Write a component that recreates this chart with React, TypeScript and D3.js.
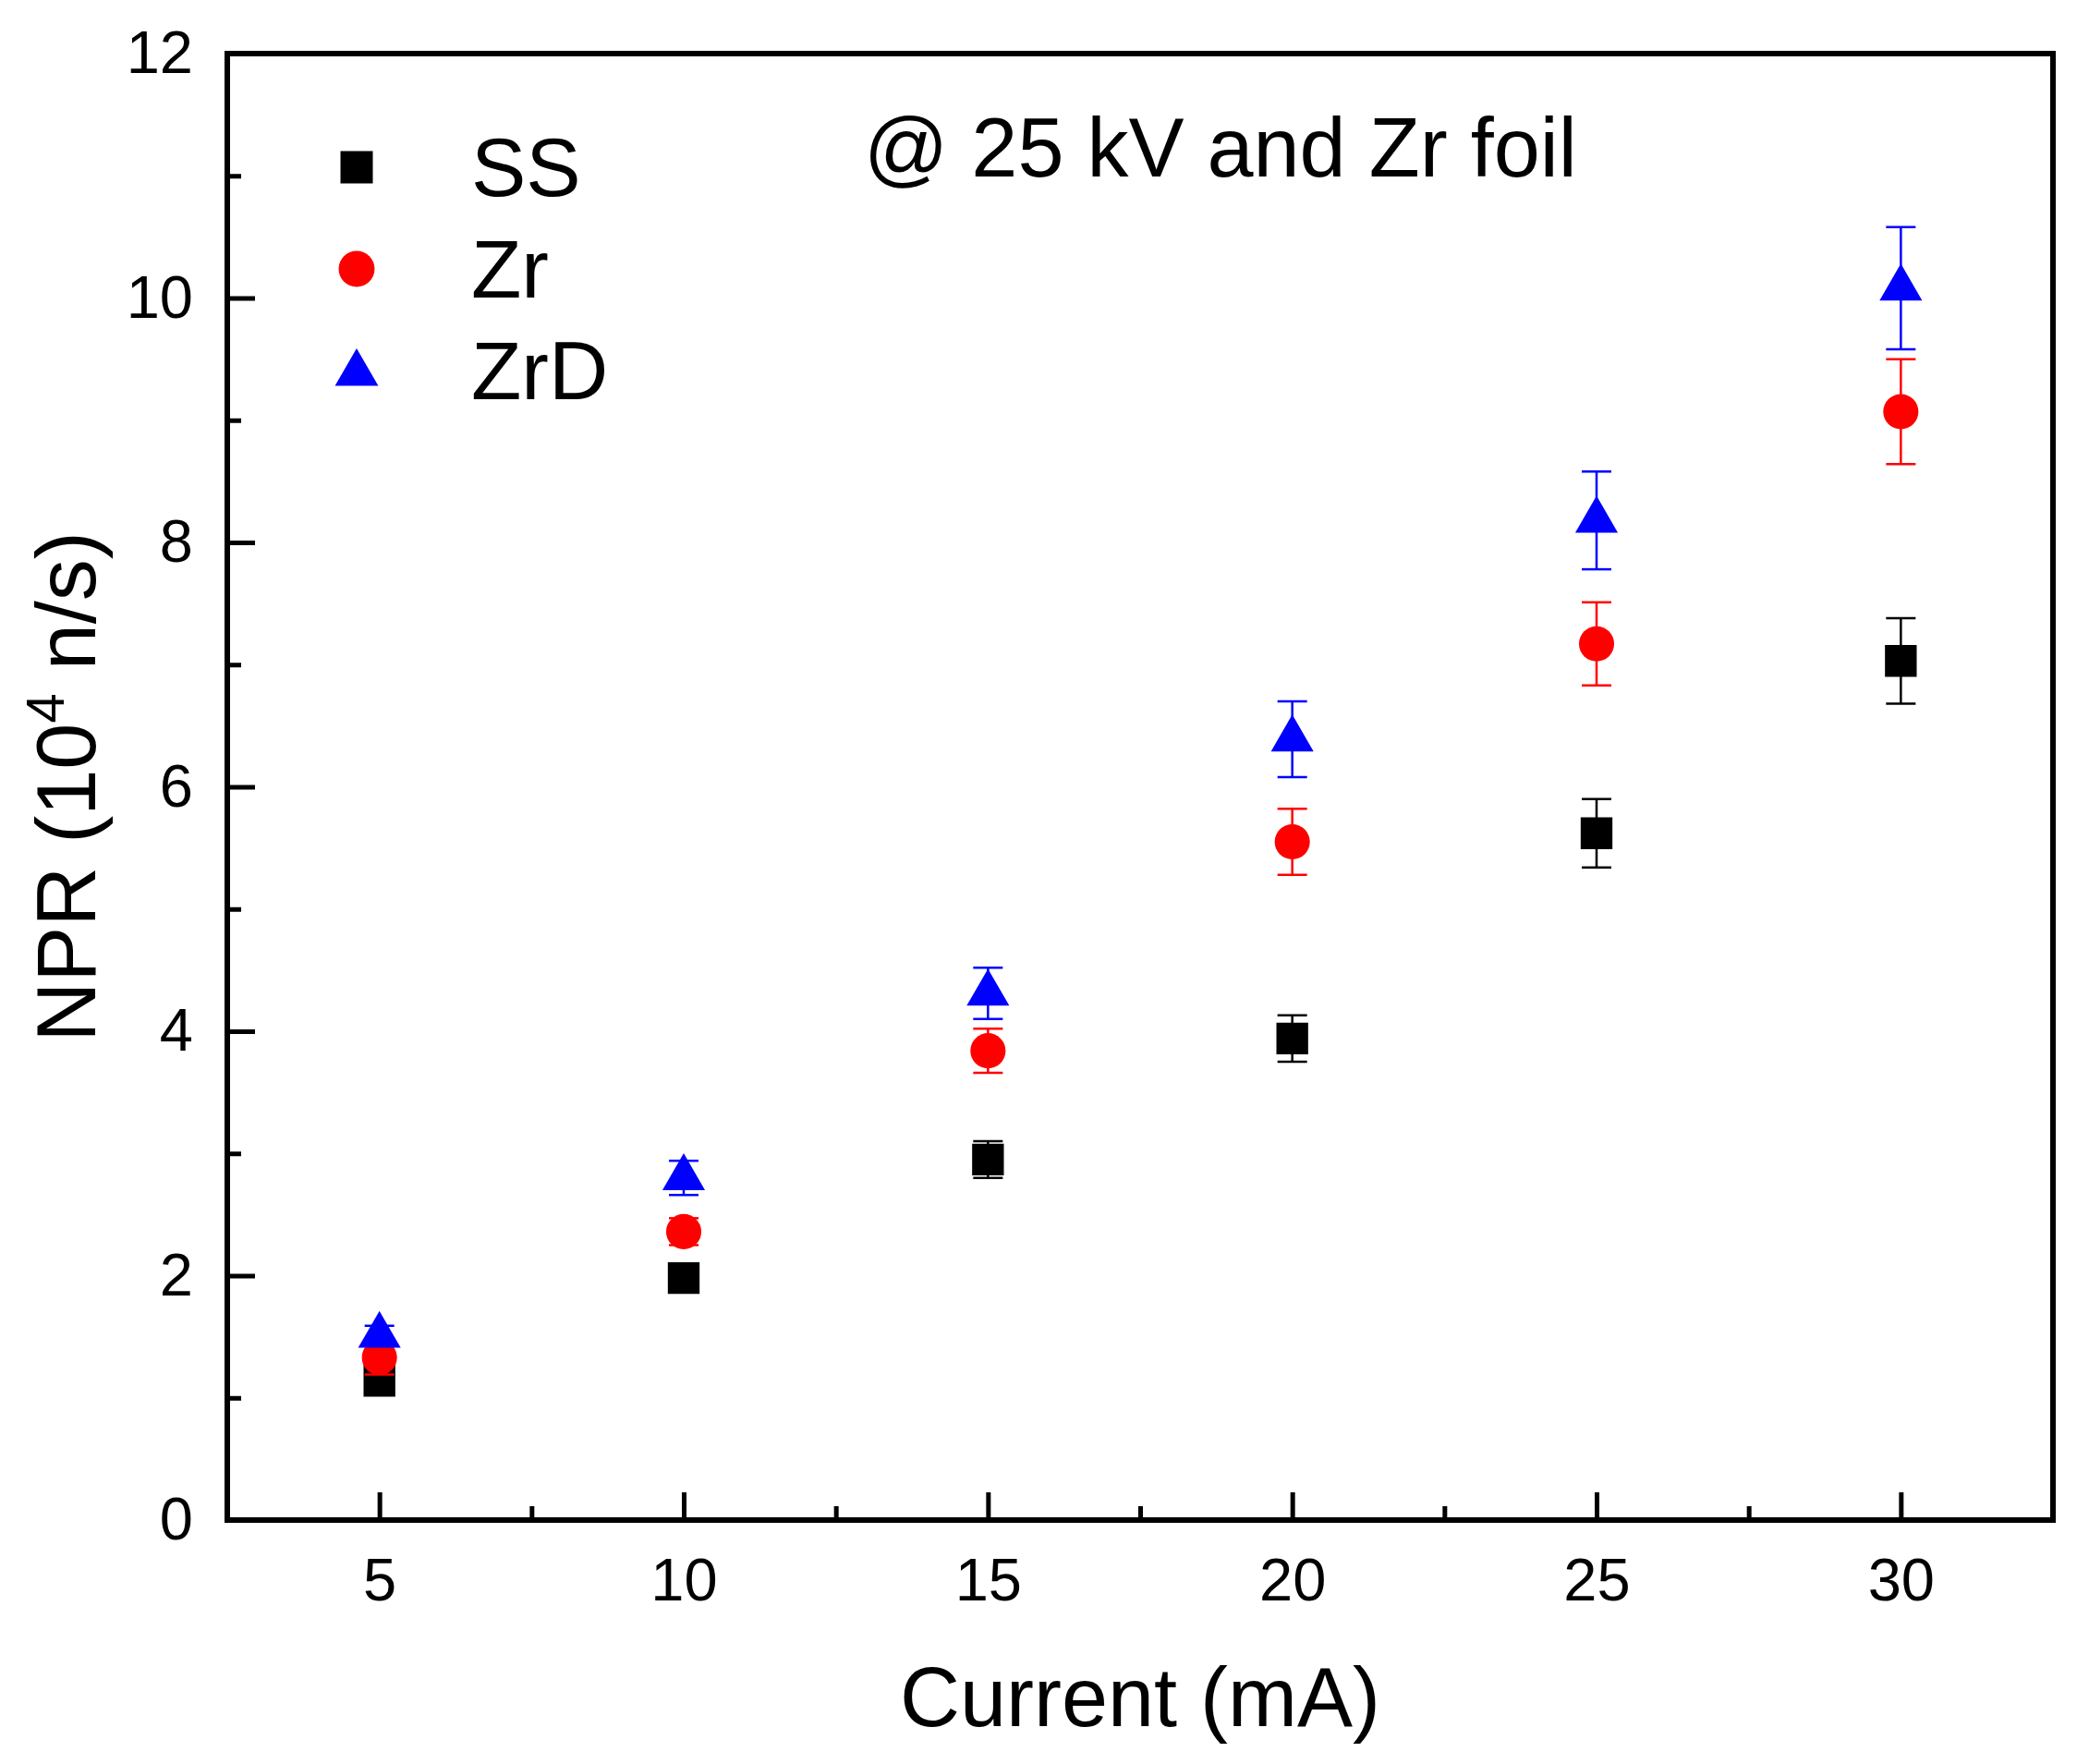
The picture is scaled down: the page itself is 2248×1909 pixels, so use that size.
import { useEffect, useRef } from 'react';
import * as d3 from 'd3';

// Current (mA)
const currents = [5, 10, 15, 20, 25, 30];

// NPR (10^4 n/s) per target
const ssValues = [1.14, 1.98, 2.95, 3.94, 5.62, 7.03];
const ssErrors = [0.05, 0.06, 0.15, 0.19, 0.28, 0.35];

const zrValues = [1.33, 2.36, 3.84, 5.55, 7.17, 9.07];
const zrErrors = [0.14, 0.11, 0.18, 0.27, 0.34, 0.43];

const zrdValues = [1.51, 2.8, 4.31, 6.39, 8.18, 10.08];
const zrdErrors = [0.08, 0.14, 0.21, 0.31, 0.4, 0.5];

const seriesNames = ['SS', 'Zr', 'ZrD'];
const seriesColors = ['#000000', '#ff0000', '#0000ff'];

const xTicks = [5, 10, 15, 20, 25, 30];
const xMinorTicks = [7.5, 12.5, 17.5, 22.5, 27.5];
const yTicks = [0, 2, 4, 6, 8, 10, 12];
const yMinorTicks = [1, 3, 5, 7, 9, 11];

const annotation = '@ 25 kV and Zr foil';

const FONT = "'Liberation Sans', Arial, Helvetica, sans-serif";

export default function App() {
  const svgRef = useRef<SVGSVGElement>(null);

  useEffect(() => {
    if (!svgRef.current) return;
    const width = 2248;
    const height = 1909;
    const plot = { left: 246, right: 2222, top: 58, bottom: 1645 };

    const svg = d3.select(svgRef.current);
    svg.selectAll('*').remove();
    svg.attr('width', width).attr('height', height);

    svg.append('rect').attr('width', width).attr('height', height).attr('fill', '#fff');

    const x = d3.scaleLinear().domain([2.5, 32.5]).range([plot.left, plot.right]);
    const y = d3.scaleLinear().domain([0, 12]).range([plot.bottom, plot.top]);

    // Axes (ticks point inward)
    const xAxis = svg
      .append('g')
      .attr('transform', `translate(0,${plot.bottom})`)
      .call(
        d3.axisBottom(x).tickValues(xTicks).tickSizeInner(-30).tickSizeOuter(0).tickPadding(41)
      );
    const xMinor = svg
      .append('g')
      .attr('transform', `translate(0,${plot.bottom})`)
      .call(d3.axisBottom(x).tickValues(xMinorTicks).tickSize(-15).tickFormat(() => ''));

    const yAxis = svg
      .append('g')
      .attr('transform', `translate(${plot.left},0)`)
      .call(d3.axisLeft(y).tickValues(yTicks).tickSizeInner(-30).tickSizeOuter(0).tickPadding(37));
    const yMinor = svg
      .append('g')
      .attr('transform', `translate(${plot.left},0)`)
      .call(d3.axisLeft(y).tickValues(yMinorTicks).tickSize(-15).tickFormat(() => ''));

    [xAxis, xMinor, yAxis, yMinor].forEach((g) => {
      g.select('.domain').remove();
      g.selectAll('line').attr('stroke', '#000').attr('stroke-width', 5);
      g.selectAll('text')
        .attr('fill', '#000')
        .style('font-family', FONT)
        .style('font-size', '65px');
    });

    // Frame
    svg
      .append('rect')
      .attr('x', plot.left)
      .attr('y', plot.top)
      .attr('width', plot.right - plot.left)
      .attr('height', plot.bottom - plot.top)
      .attr('fill', 'none')
      .attr('stroke', '#000')
      .attr('stroke-width', 6);

    // Data series
    const symbols = [d3.symbolSquare, d3.symbolCircle, d3.symbolTriangle];
    const sizes = [1180, 1140, 920];
    const values = [ssValues, zrValues, zrdValues];
    const errors = [ssErrors, zrErrors, zrdErrors];
    const capHalf = 16;

    values.forEach((vals, si) => {
      const color = seriesColors[si];
      const g = svg.append('g');
      const pts = currents.map((c, i) => ({ c, v: vals[i], e: errors[si][i] }));

      const eb = g.selectAll('g.eb').data(pts).join('g').attr('class', 'eb');
      eb.append('line')
        .attr('x1', (d) => x(d.c))
        .attr('x2', (d) => x(d.c))
        .attr('y1', (d) => y(d.v - d.e))
        .attr('y2', (d) => y(d.v + d.e))
        .attr('stroke', color)
        .attr('stroke-width', 2.5);
      [1, -1].forEach((sgn) => {
        eb.append('line')
          .attr('x1', (d) => x(d.c) - capHalf)
          .attr('x2', (d) => x(d.c) + capHalf)
          .attr('y1', (d) => y(d.v + sgn * d.e))
          .attr('y2', (d) => y(d.v + sgn * d.e))
          .attr('stroke', color)
          .attr('stroke-width', 2.5);
      });

      g.selectAll('path.pt')
        .data(pts)
        .join('path')
        .attr('class', 'pt')
        .attr('d', d3.symbol().type(symbols[si]).size(sizes[si])())
        .attr('transform', (d) => `translate(${x(d.c)},${y(d.v)})`)
        .attr('fill', color);
    });

    // Legend
    const legend = svg.append('g');
    seriesNames.forEach((name, i) => {
      const cy = 181 + i * 110;
      legend
        .append('path')
        .attr('d', d3.symbol().type(symbols[i]).size(i === 2 ? 950 : i === 1 ? 1190 : 1225)())
        .attr('transform', `translate(386,${i === 2 ? cy + 3 : cy})`)
        .attr('fill', seriesColors[i]);
      legend
        .append('text')
        .attr('x', 510)
        .attr('y', cy + 31)
        .style('font-family', FONT)
        .style('font-size', '89px')
        .attr('fill', '#000')
        .text(name);
    });

    // Annotation
    svg
      .append('text')
      .attr('x', 935)
      .attr('y', 191)
      .style('font-family', FONT)
      .style('font-size', '90px')
      .attr('fill', '#000')
      .text(annotation);

    // Axis titles
    svg
      .append('text')
      .attr('x', (plot.left + plot.right) / 2)
      .attr('y', 1868)
      .attr('text-anchor', 'middle')
      .style('font-family', FONT)
      .style('font-size', '90px')
      .attr('fill', '#000')
      .text('Current (mA)');

    const yTitle = svg
      .append('text')
      .attr('transform', `translate(103,${(plot.top + plot.bottom) / 2}) rotate(-90)`)
      .attr('text-anchor', 'middle')
      .style('font-family', FONT)
      .style('font-size', '90px')
      .attr('fill', '#000');
    yTitle.append('tspan').text('NPR (10');
    yTitle.append('tspan').attr('dy', -34).style('font-size', '58px').text('4');
    yTitle.append('tspan').attr('dy', 34).text(' n/s)');
  }, []);

  return (
    <svg
      ref={svgRef}
      style={{ position: 'absolute', left: 0, top: 0, display: 'block' }}
    ></svg>
  );
}
